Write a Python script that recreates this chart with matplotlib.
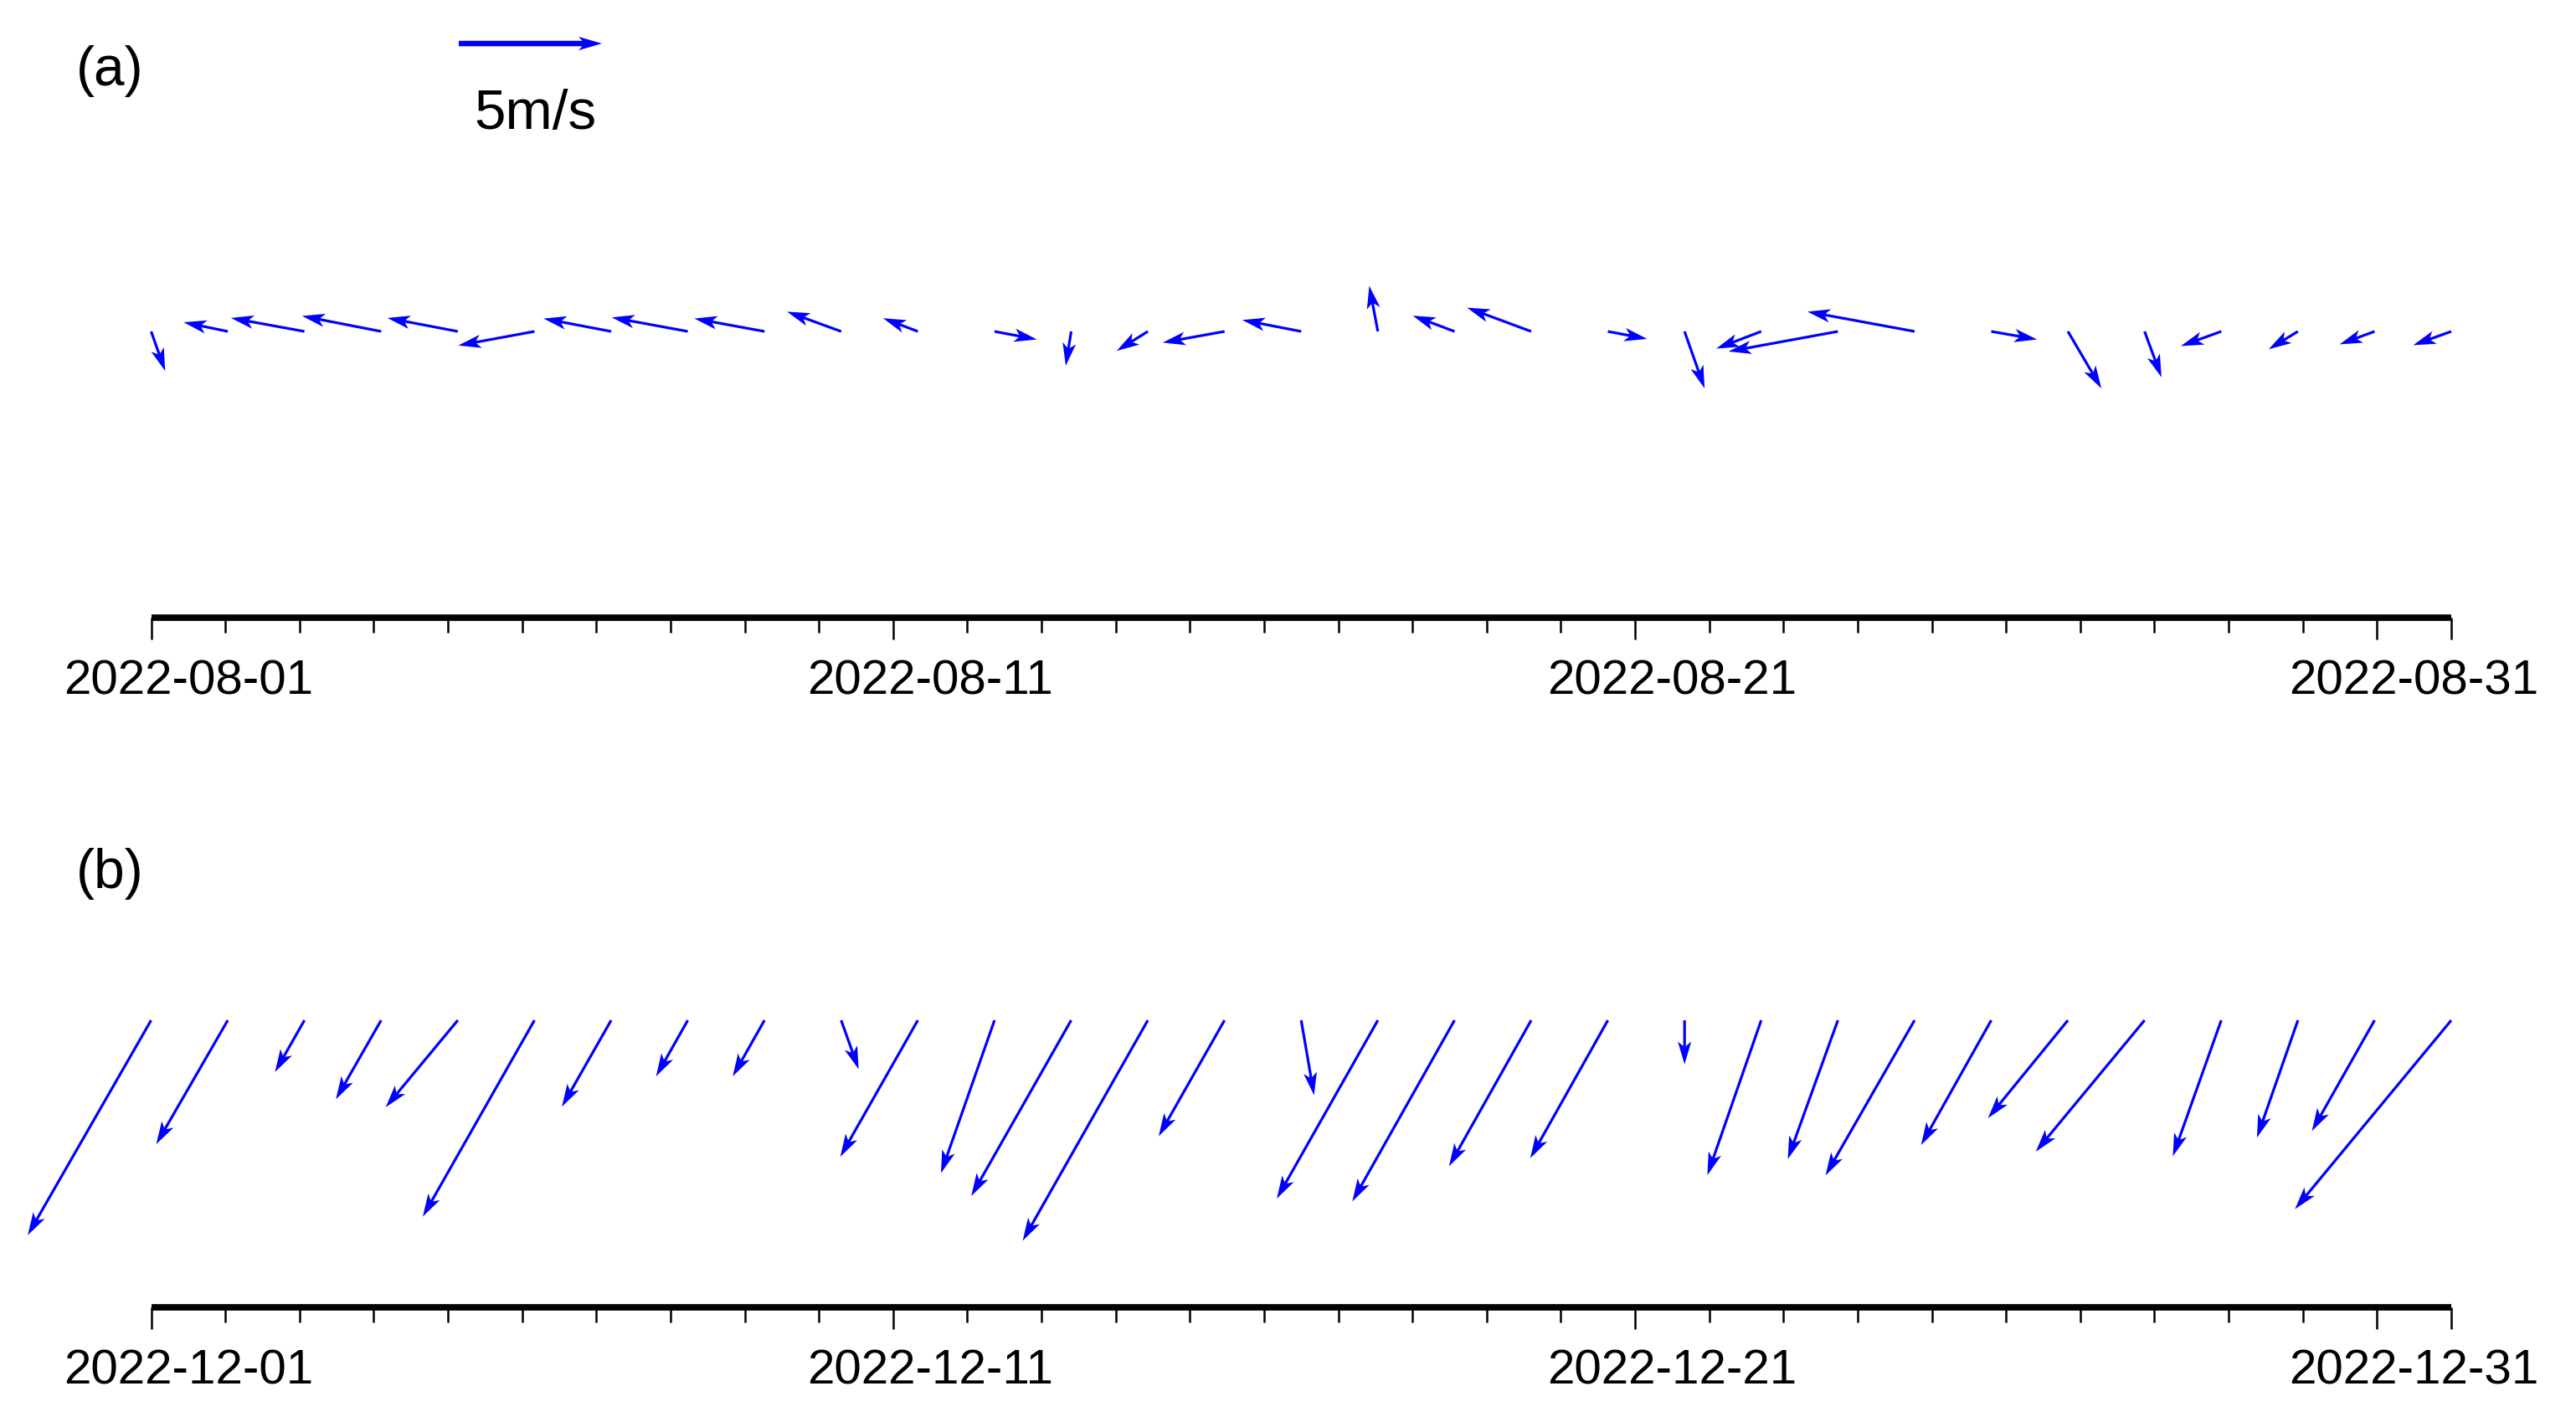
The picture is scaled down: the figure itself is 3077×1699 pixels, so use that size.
import numpy as np
import matplotlib
matplotlib.use("Agg")
import matplotlib.pyplot as plt
import matplotlib.dates as mdates
from matplotlib.ticker import FixedLocator
from matplotlib.transforms import blended_transform_factory
from datetime import datetime

plt.rcParams['font.family'] = ['Liberation Sans', 'DejaVu Sans']

# ---------------- data ----------------
day_index = np.arange(1, 32)          # daily wind vectors (31 per month)

u_aug = [0.49, -1.54, -2.57, -2.76, -2.46, -2.66, -2.36, -2.66, -2.45, -1.89,
         -1.21, 1.48, -0.19, -1.09, -2.16, -2.06, -0.30, -1.46, -2.24, 1.37,
         0.70, -1.57, -3.82, -3.74, 1.60, 1.17, 0.59, -1.41, -1.02, -1.22, -1.33]
v_aug = [-1.38, 0.32, 0.47, 0.54, 0.47, -0.49, 0.45, 0.49, 0.45, 0.69,
         0.46, -0.28, -1.20, -0.68, -0.39, 0.40, 1.59, 0.55, 0.83, -0.26,
         -1.99, -0.60, -0.70, 0.69, -0.28, -1.99, -1.60, -0.51, -0.62, -0.45, -0.48]

u_dec = [-4.31, -2.50, -1.03, -1.58, -2.52, -3.90, -1.72, -1.11, -1.11, 0.61,
         -2.71, -1.87, -3.49, -4.37, -2.30, 0.45, -3.53, -3.57, -2.87, -2.71,
         0.00, -1.88, -1.75, -3.11, -2.45, -2.79, -3.80, -1.69, -1.43, -2.19, -5.46]
v_dec = [-7.51, -4.33, -1.81, -2.76, -3.04, -6.86, -3.02, -1.96, -1.96, -1.71,
         -4.77, -5.34, -6.14, -7.70, -4.05, -2.62, -6.23, -6.33, -5.10, -4.82,
         -1.54, -5.41, -4.85, -5.42, -4.36, -3.42, -4.59, -4.75, -4.10, -3.87, -6.60]

aug_range = ["2022-08-01", "2022-09-01"]
dec_range = ["2022-12-01", "2023-01-01"]
aug_labels = ["2022-08-01", "2022-08-11", "2022-08-21", "2022-08-31"]
dec_labels = ["2022-12-01", "2022-12-11", "2022-12-21", "2022-12-31"]
panel_tags = ["(a)", "(b)"]
ref_speed = 5.0
ref_label = "5m/s"

# ---------------- layout ----------------
W, H, DPI = 3077, 1699, 300
fig = plt.figure(figsize=(W / DPI, H / DPI), dpi=DPI)

def rect(left, top, right, bottom):
    return [left / W, 1 - bottom / H, (right - left) / W, (bottom - top) / H]

PX_PER_MS = 34.2                      # pixels per m/s
QSCALE = DPI / PX_PER_MS              # m/s per inch
BLUE = (0, 0, 1)

panels = [
    dict(rect=rect(180.5, 54, 2928, 738), rng=aug_range, labels=aug_labels,
         u=u_aug, v=v_aug, tag=panel_tags[0], tagxy=(131, 102)),
    dict(rect=rect(180.5, 876, 2928, 1562), rng=dec_range, labels=dec_labels,
         u=u_dec, v=v_dec, tag=panel_tags[1], tagxy=(131, 1061)),
]

for p in panels:
    r = p["rect"]
    ax = fig.add_axes(r)
    t0 = datetime.strptime(p["rng"][0], "%Y-%m-%d")
    t1 = datetime.strptime(p["rng"][1], "%Y-%m-%d")
    ax.set_xlim(mdates.date2num(t0), mdates.date2num(t1))
    ax.set_ylim(-1, 1)
    for s in ["top", "left", "right"]:
        ax.spines[s].set_visible(False)
    ax.spines["bottom"].set_linewidth(1.85)
    ax.spines["bottom"].set_capstyle("butt")
    ax.set_yticks([])
    lab_dates = [mdates.date2num(datetime.strptime(s, "%Y-%m-%d")) for s in p["labels"]]
    ax.xaxis.set_major_locator(FixedLocator(lab_dates + [mdates.date2num(t1)]))
    ax.xaxis.set_minor_locator(mdates.DayLocator())
    ax.tick_params(axis="x", which="major", length=6.3, width=0.6,
                   direction="out", labelbottom=False, color="black")
    ax.tick_params(axis="x", which="minor", length=4.3, width=0.6,
                   direction="out", color="black")
    ax.patch.set_visible(False)
    trans = blended_transform_factory(ax.transData, ax.transAxes)
    ax_h_px = r[3] * H
    for s, d in zip(p["labels"], lab_dates):
        ax.text(d + 0.5, -92 / ax_h_px, s, transform=trans, ha="center",
                va="baseline", fontsize=14.0, color="black")

    # wind vectors
    axq = fig.add_axes(r)
    axq.set_xlim(day_index[0], day_index[-1])
    axq.set_ylim(-1, 1)
    axq.axis("off")
    q = axq.quiver(day_index, np.zeros(len(day_index)), p["u"], p["v"],
                   angles="uv", scale_units="inches", scale=QSCALE,
                   units="inches", width=3.2 / DPI, headwidth=5.0,
                   headlength=8.5, headaxislength=6.8, color=BLUE,
                   pivot="tail")
    q.set_clip_on(False)

    fig.text(p["tagxy"][0] / W, 1 - p["tagxy"][1] / H, p["tag"],
             ha="center", va="baseline", fontsize=15.8)

# reference arrow
axr = fig.add_axes([0, 0, 1, 1])
axr.set_xlim(0, W)
axr.set_ylim(H, 0)
axr.axis("off")
axr.quiver([548], [52], [ref_speed], [0], angles="uv", scale_units="inches",
           scale=QSCALE, units="inches", width=6.5 / DPI, headwidth=2.5,
           headlength=4.3, headaxislength=3.6, color=BLUE, pivot="tail")
fig.text(639 / W, 1 - 154 / H, ref_label, ha="center", va="baseline", fontsize=16.2)

fig.savefig("out.png", dpi=DPI)
